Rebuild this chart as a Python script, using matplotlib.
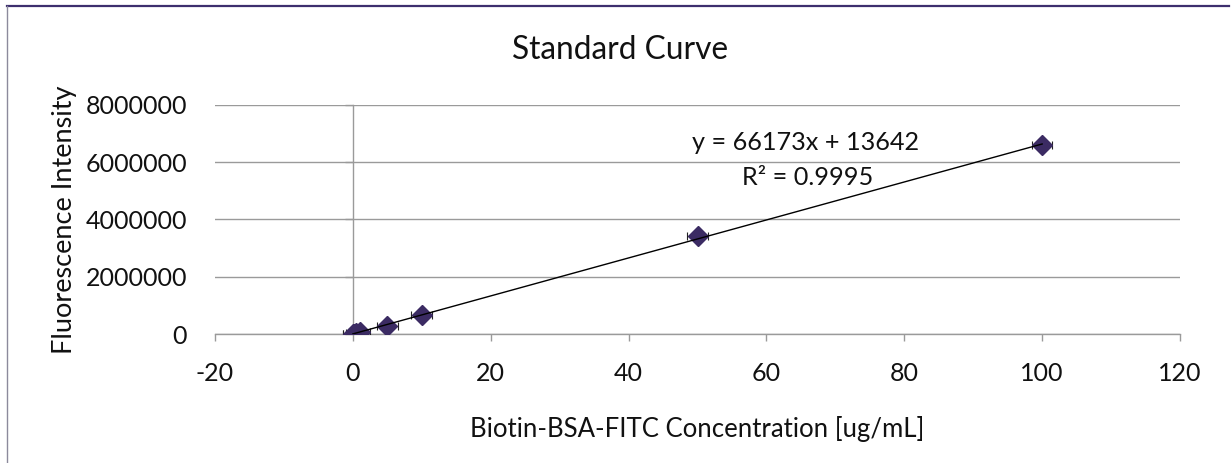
import matplotlib
matplotlib.use("Agg")
import matplotlib.pyplot as plt
from matplotlib.lines import Line2D
import numpy as np

plt.rcParams['font.family'] = ['Lato', 'DejaVu Sans']

# Standard curve measurements
concentration = [0, 0.1, 0.5, 1, 5, 10, 50, 100]          # ug/mL
fluorescence = [12000, 18000, 45000, 80000, 290000, 672000, 3420000, 6580000]
conc_err = [1.5, 1.5, 1.5, 1.5, 1.5, 1.5, 1.5, 1.5]

# Linear trendline reported on the chart
slope = 66173
intercept = 13642
r_squared = 0.9995

x_ticks = [-20, 0, 20, 40, 60, 80, 100, 120]
y_ticks = [0, 2000000, 4000000, 6000000, 8000000]

W, H, DPI = 1231, 463, 100
fig = plt.figure(figsize=(W / DPI, H / DPI), dpi=DPI)
fig.patch.set_facecolor('white')

ax = fig.add_axes([215 / W, 1 - 334.3 / H, (1180 - 215) / W, (334.3 - 104.7) / H])
ax.set_xlim(x_ticks[0], x_ticks[-1])
ax.set_ylim(y_ticks[0], y_ticks[-1])

grid_c = '#9a9a9a'
txt_c = '#111111'
ax.set_yticks(y_ticks)
ax.set_xticks(x_ticks)
ax.yaxis.grid(True, color=grid_c, linewidth=1.0)
ax.set_axisbelow(True)

for s in ['top', 'right']:
    ax.spines[s].set_visible(False)
ax.spines['bottom'].set_color(grid_c)
ax.spines['bottom'].set_linewidth(1.0)
ax.spines['left'].set_position(('data', 0))
ax.spines['left'].set_color(grid_c)
ax.spines['left'].set_linewidth(1.0)

ax.tick_params(axis='x', direction='out', length=5, width=1, color=grid_c,
               labelsize=18, labelcolor=txt_c, pad=15)
ax.tick_params(axis='y', direction='out', length=6, width=1, color=grid_c,
               labelleft=False)

# value labels for the y axis at the left edge of the plot area
sec = ax.secondary_yaxis('left')
sec.set_yticks(y_ticks)
sec.set_yticklabels([str(v) for v in y_ticks])
sec.tick_params(axis='y', length=0, labelsize=18, labelcolor=txt_c, pad=28 * 0.72)
sec.spines['left'].set_visible(False)
sec.set_ylabel('Fluorescence Intensity', fontsize=19.5, color=txt_c, labelpad=6)

ax.set_xticklabels([str(v) for v in x_ticks])
ax.set_xlabel('Biotin-BSA-FITC Concentration [ug/mL]', fontsize=18.5, color=txt_c,
              labelpad=22)

# data points with error bars
ax.errorbar(concentration, fluorescence, xerr=conc_err, fmt='none',
            ecolor='#222222', elinewidth=0.8, capsize=3, capthick=0.8, zorder=3)
ax.plot(concentration, fluorescence, linestyle='none', marker='D',
        markersize=10.5, color='#3b2b63', markeredgecolor='#3b2b63', zorder=4)

# trendline
xt = np.array([min(concentration), max(concentration)])
ax.plot(xt, slope * xt + intercept, color='black', linewidth=1.0, zorder=5)

ax.text(65.7, 6666000, f'y = {slope}x + {intercept}', ha='center', va='center',
        fontsize=18.2, color=txt_c)
ax.text(66.0, 5446000, f'R² = {r_squared}', ha='center', va='center',
        fontsize=18.2, color=txt_c)

fig.text(620 / W, 1 - 50 / H, 'Standard Curve', ha='center', va='center',
         fontsize=22.8, color=txt_c)

# chart frame
fig.add_artist(Line2D([7 / W, 1229 / W], [1 - 6 / H, 1 - 6 / H],
                      transform=fig.transFigure, color='#3d2f6e', linewidth=1.6))
fig.add_artist(Line2D([7 / W, 7 / W], [1 - 6 / H, 0],
                      transform=fig.transFigure, color='#8c8a9c', linewidth=1.0))

fig.savefig('out.png', dpi=DPI)
